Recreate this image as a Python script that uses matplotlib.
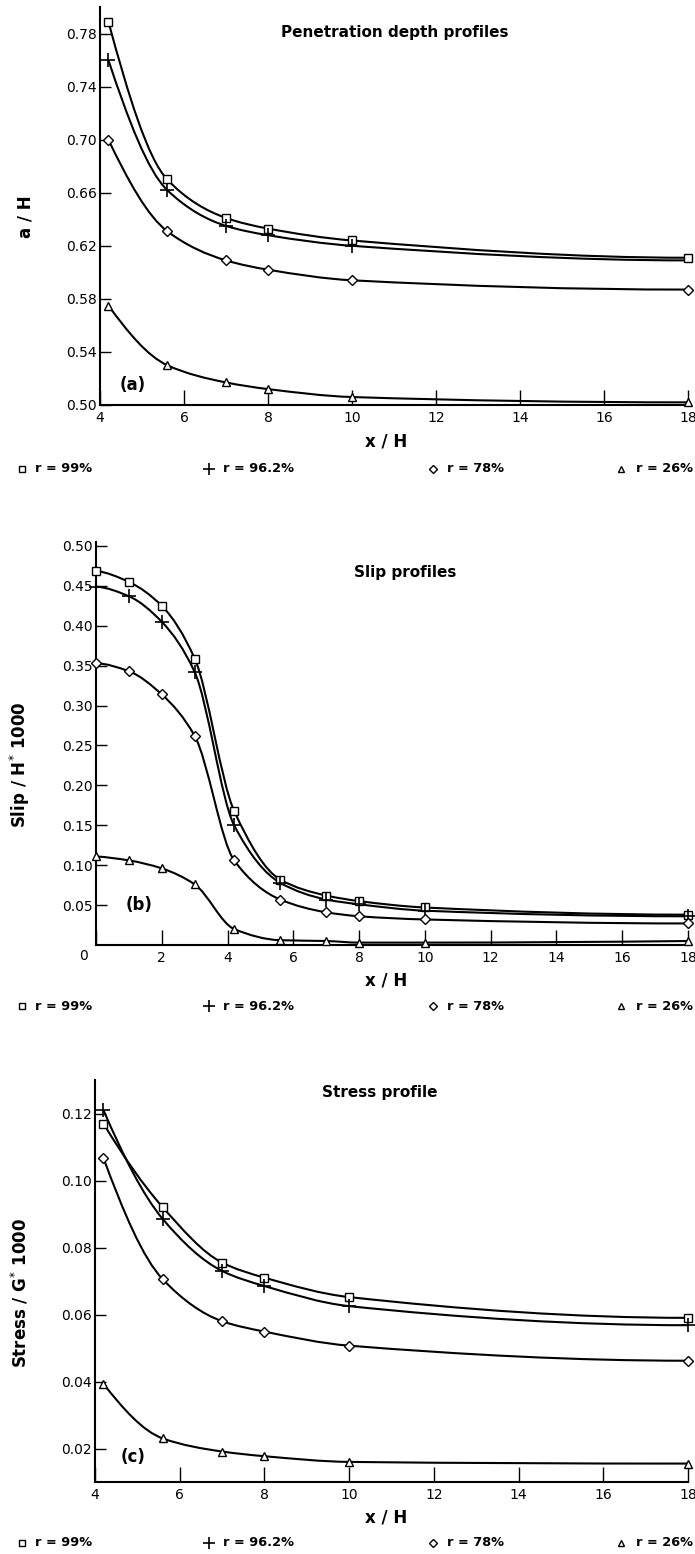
import numpy as np
import matplotlib
matplotlib.use("Agg")
import matplotlib.pyplot as plt
from matplotlib.path import Path
from matplotlib.patches import PathPatch
from matplotlib.lines import Line2D

# ---------------- Values ----------------
x_depth = [4.2, 5.6, 7, 8, 10, 18]
depth_r99 = [0.789, 0.670, 0.641, 0.633, 0.624, 0.611]
depth_r962 = [0.760, 0.662, 0.635, 0.628, 0.620, 0.609]
depth_r78 = [0.700, 0.631, 0.609, 0.602, 0.594, 0.587]
depth_r26 = [0.575, 0.530, 0.517, 0.512, 0.506, 0.502]

x_slip = [0, 1, 2, 3, 4.2, 5.6, 7, 8, 10, 18]
slip_r99 = [0.469, 0.455, 0.425, 0.359, 0.168, 0.082, 0.062, 0.055, 0.047, 0.038]
slip_r962 = [0.449, 0.437, 0.405, 0.342, 0.150, 0.078, 0.057, 0.051, 0.043, 0.036]
slip_r78 = [0.353, 0.343, 0.314, 0.262, 0.106, 0.057, 0.041, 0.036, 0.032, 0.027]
slip_r26 = [0.111, 0.106, 0.096, 0.076, 0.020, 0.006, 0.005, 0.003, 0.003, 0.005]

x_stress = [4.2, 5.6, 7, 8, 10, 18]
stress_r99 = [0.117, 0.092, 0.0755, 0.071, 0.0652, 0.059]
stress_r962 = [0.121, 0.0885, 0.073, 0.0685, 0.0625, 0.0568]
stress_r78 = [0.1067, 0.0705, 0.058, 0.0549, 0.0507, 0.0462]
stress_r26 = [0.0393, 0.023, 0.0191, 0.0177, 0.016, 0.0155]

series_labels = ["r = 99%", "r = 96.2%", "r = 78%", "r = 26%"]

W, H = 695, 1554
MARKERS = [dict(marker="s", ms=6, mew=1.0),
           dict(marker="+", ms=10, mew=1.2),
           dict(marker="D", ms=5.5, mew=1.0),
           dict(marker="^", ms=5.5, mew=1.0)]


def px(x, y):
    # pixel position in the reference -> figure fraction
    return x / W, 1 - y / H


# ---------------- Smooth curve through the points (monotone cubic) ----------------
def end_slope(h0, h1, d0, d1):
    m = ((2 * h0 + h1) * d0 - h0 * d1) / (h0 + h1)
    if np.sign(m) != np.sign(d0):
        return 0.0
    if np.sign(d0) != np.sign(d1) and abs(m) > abs(3 * d0):
        return 3 * d0
    return m


def smooth_path(x, y):
    x = np.asarray(x, float)
    y = np.asarray(y, float)
    h = np.diff(x)
    d = np.diff(y) / h
    m = np.zeros(len(x))
    for k in range(1, len(x) - 1):
        if d[k - 1] * d[k] > 0:
            w1 = 2 * h[k] + h[k - 1]
            w2 = h[k] + 2 * h[k - 1]
            m[k] = (w1 + w2) / (w1 / d[k - 1] + w2 / d[k])
    m[0] = end_slope(h[0], h[1], d[0], d[1])
    m[-1] = end_slope(h[-1], h[-2], d[-1], d[-2])
    verts = [(x[0], y[0])]
    codes = [Path.MOVETO]
    for k in range(len(x) - 1):
        verts += [(x[k] + h[k] / 3, y[k] + m[k] * h[k] / 3),
                  (x[k + 1] - h[k] / 3, y[k + 1] - m[k + 1] * h[k] / 3),
                  (x[k + 1], y[k + 1])]
        codes += [Path.CURVE4] * 3
    return Path(verts, codes)


def draw_series(ax, x, series, skip_last=()):
    for i, y in enumerate(series):
        ax.add_patch(PathPatch(smooth_path(x, y), fill=False, edgecolor="black",
                               lw=1.5, zorder=2))
        every = list(range(len(x) - 1)) if i in skip_last else None
        ax.plot(x, y, linestyle="none", mfc="white", mec="black", zorder=3,
                markevery=every, clip_on=False, **MARKERS[i])


def style_axes(ax, xlim, ylim, xticks, yticks, yfmt):
    ax.set_xlim(*xlim)
    ax.set_ylim(*ylim)
    ax.spines["top"].set_visible(False)
    ax.spines["right"].set_visible(False)
    ax.spines["left"].set_linewidth(1.5)
    ax.spines["bottom"].set_linewidth(1.5)
    ax.set_xticks(xticks)
    ax.set_xticklabels([f"{v:g}" for v in xticks])
    ax.set_yticks(yticks)
    ax.set_yticklabels([yfmt.format(v) for v in yticks])
    ax.tick_params(axis="x", direction="in", length=11, width=1, pad=4, labelsize=10)
    ax.tick_params(axis="y", direction="in", length=8, width=1, pad=2, labelsize=10)


def legend_row(fig, y):
    for i, (xm, xt) in enumerate([(22, 35), (209, 223), (433, 447), (621, 636)]):
        fx, fy = px(xm, y)
        fig.add_artist(Line2D([fx], [fy], transform=fig.transFigure, linestyle="none",
                              mfc="white", mec="black",
                              **dict(MARKERS[i], ms=MARKERS[i]["ms"] * 0.8)))
        tx, ty = px(xt, y)
        fig.text(tx, ty, series_labels[i], fontsize=9.3, fontweight="bold",
                 ha="left", va="center")


# ---------------- Figure ----------------
fig = plt.figure(figsize=(W / 100, H / 100), dpi=100)

# (a) penetration depth
ax_a = fig.add_axes([100 / W, 1 - 405 / H, 588 / W, 398 / H])
style_axes(ax_a, (4, 18), (0.50, 0.80), list(range(4, 19, 2)),
           [0.50, 0.54, 0.58, 0.62, 0.66, 0.70, 0.74, 0.78], "{:.2f}")
draw_series(ax_a, x_depth, [depth_r99, depth_r962, depth_r78, depth_r26], skip_last=(1,))

# (b) slip
ax_b = fig.add_axes([96 / W, 1 - 945 / H, 592 / W, 403 / H])
style_axes(ax_b, (0, 18), (0, 0.505), list(range(0, 19, 2)),
           [0.05, 0.10, 0.15, 0.20, 0.25, 0.30, 0.35, 0.40, 0.45, 0.50], "{:.2f}")
labels_b = ax_b.get_xticklabels()
labels_b[0].set_text("")
ax_b.set_xticklabels(labels_b)
ax_b.annotate("0", xy=(0, 0), xytext=(-12, -11), textcoords="offset pixels",
              ha="center", va="center", fontsize=10, annotation_clip=False)
draw_series(ax_b, x_slip, [slip_r99, slip_r962, slip_r78, slip_r26])

# (c) stress
ax_c = fig.add_axes([95 / W, 1 - 1482 / H, 593 / W, 402 / H])
style_axes(ax_c, (4, 18), (0.01, 0.13), list(range(4, 19, 2)),
           [0.02, 0.04, 0.06, 0.08, 0.10, 0.12], "{:.2f}")
draw_series(ax_c, x_stress, [stress_r99, stress_r962, stress_r78, stress_r26])

# ---------------- Texts ----------------
titles = [("Penetration depth profiles", 395, 33),
          ("Slip profiles", 405, 572),
          ("Stress profile", 380, 1093)]
for txt, x, y in titles:
    fig.text(*px(x, y), txt, fontsize=11, fontweight="bold", ha="center", va="center")

ylabels = [("a / H", 25, 217),
           ("Slip / H$^{*}$ 1000", 20, 765),
           ("Stress / G$^{*}$ 1000", 20, 1293)]
for txt, x, y in ylabels:
    fig.text(*px(x, y), txt, fontsize=12, fontweight="bold", rotation=90,
             ha="center", va="center")

for y in (442, 981, 1518):
    fig.text(*px(386, y), "x / H", fontsize=12, fontweight="bold", ha="center", va="center")

for txt, x, y in [("(a)", 133, 385), ("(b)", 139, 905), ("(c)", 133, 1457)]:
    fig.text(*px(x, y), txt, fontsize=12, fontweight="bold", ha="center", va="center")

for y in (469, 1006, 1543):
    legend_row(fig, y)

fig.savefig("out.png", dpi=100)
